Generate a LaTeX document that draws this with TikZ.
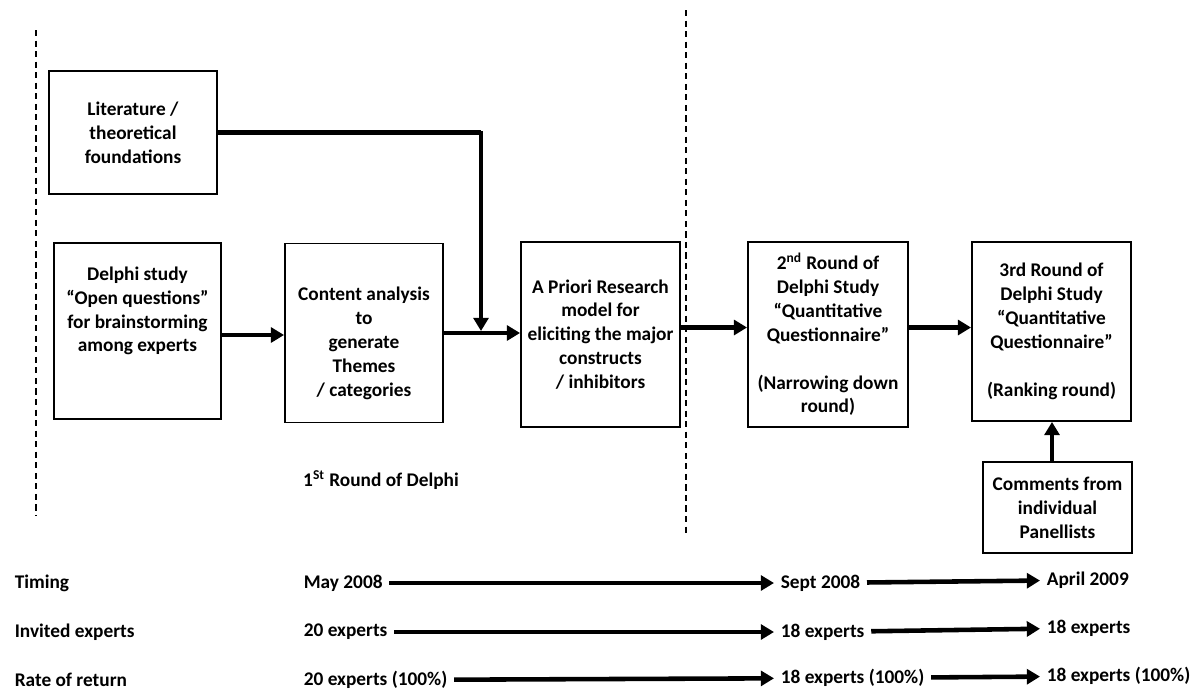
\documentclass[tikz,border=0pt]{standalone}
\usepackage{fontspec}
\setmainfont{Carlito}
\usepackage{tikz}
\usetikzlibrary{positioning}
\usetikzlibrary{shapes,arrows.meta}
\tikzstyle{box} = [rectangle, draw, line width=1.1pt, align=center, inner sep=2pt]
\tikzstyle{txt} = [align=center, inner sep=0pt]
\tikzstyle{row} = [anchor=west]
\tikzstyle{arrow} = [line width=2.6pt,-{Triangle[length=7.5pt,width=8.5pt]}]
\tikzstyle{divider} = [dash pattern=on 3.5pt off 2.5pt, line width=0.6pt]

\begin{document}
\begin{tikzpicture}[x=0.02cm, y=-0.02cm]
\fontsize{11}{13.6}\selectfont\bfseries
\useasboundingbox (0,0) rectangle (1202,693);

% boxes
\node (lit) [box, minimum width=3.36cm, minimum height=2.46cm] at (133,132.5) {Literature /\\ theoretical\\ foundations};
\node (delphi) [box, minimum width=3.34cm, minimum height=3.52cm] at (137.5,331) {};
\node (delphitxt) [txt] at (137.5,311) {Delphi study\\ “Open questions”\\ for brainstorming\\ among experts};
\node (content) [box, minimum width=3.16cm, minimum height=3.58cm] at (364,333) {};
\node (contenttxt) [txt] at (364,343.5) {Content analysis\\ to\\ generate\\ Themes\\ / categories};
\node (apriori) [box, minimum width=3.18cm, minimum height=3.7cm] at (600.5,334.5) {A Priori Research\\ model for\\ eliciting the major\\ constructs\\ / inhibitors};
\node (second) [box, minimum width=3.2cm, minimum height=3.7cm] at (828,334.5) {2\textsuperscript{nd} Round of\\ Delphi Study\\ “Quantitative\\ Questionnaire”\\ \\ (Narrowing down\\ round)};
\node (third) [box, minimum width=3.18cm, minimum height=3.58cm] at (1051.5,331.5) {3rd Round of\\ Delphi Study\\ “Quantitative\\ Questionnaire”\\ \\ (Ranking round)};
\node (comments) [box, minimum width=2.98cm, minimum height=1.82cm] at (1057.5,507.5) {Comments from\\ individual\\ Panellists};
\node (round1) [txt] at (381,480) {1\textsuperscript{St} Round of Delphi};
\coordinate (join) at (481,331);

% dividers
\coordinate (divtop1) at (36,30);
\coordinate (divbot1) at (36,515);
\coordinate (divtop2) at (686,10);
\coordinate (divbot2) at (686,535);
\draw [divider] (divtop1) -- (divbot1);
\draw [divider] (divtop2) -- (divbot2);

% time lines
\node (timing) [row] at (8,583) {Timing};
\node (invited) [row] at (8,632) {Invited experts};
\node (rate) [row] at (8,680) {Rate of return};
\node (may) [row] at (297,583) {May 2008};
\node (sept) [row] at (774,583) {Sept 2008};
\node (april) [row] at (1040,580) {April 2009};
\node (inv1) [row] at (297,632) {20 experts};
\node (inv2) [row] at (774,632) {18 experts};
\node (inv3) [row] at (1040,628) {18 experts};
\node (rate1) [row] at (297,680) {20 experts (100\%)};
\node (rate2) [row] at (774,678) {18 experts (100\%)};
\node (rate3) [row] at (1040,676) {18 experts (100\%)};

\draw [arrow] (delphi.east |- 0,335) -- (content.west |- 0,335);
\draw [arrow] (content.east) -- (content.east -| apriori.west);
\draw [line width=2.6pt] (lit.east) -| (481,131);
\draw [arrow] (lit.east -| 481,0) -- (join);
\draw [arrow] ([yshift=0.14cm]apriori.east) -- ([yshift=0.14cm]apriori.east -| second.west);
\draw [arrow] ([yshift=0.14cm]second.east) -- ([yshift=0.14cm]second.east -| third.west);
\draw [arrow] (comments.north -| 1052,0) -- (third.south -| 1052,0);

\draw [arrow] (may) -- (sept);
\draw [arrow] (sept) -- (april);
\draw [arrow] (inv1) -- (inv2);
\draw [arrow] (inv2) -- (inv3);
\draw [arrow] (rate1) -- (rate2);
\draw [arrow] (rate2) -- (rate3);

\end{tikzpicture}
\end{document}
